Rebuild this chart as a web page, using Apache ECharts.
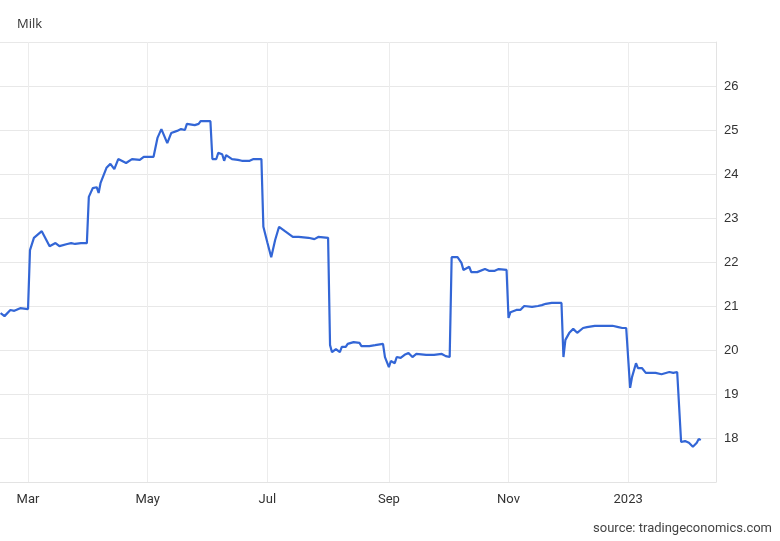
<!DOCTYPE html>
<html>
<head>
<meta charset="utf-8">
<script src="https://cdn.jsdelivr.net/npm/echarts@6/dist/echarts.min.js"></script>
<style>
html,body{margin:0;padding:0;background:#fff;}
#chart{width:780px;height:541px;}
</style>
</head>
<body>
<div id="chart"></div>
<script>
const dates = [
'2022-02-15','2022-02-17','2022-02-20','2022-02-22','2022-02-25','2022-02-26','2022-03-01',
'2022-03-02','2022-03-04','2022-03-08','2022-03-12','2022-03-15','2022-03-17','2022-03-21','2022-03-23','2022-03-25','2022-03-28','2022-03-31',
'2022-04-01','2022-04-03','2022-04-05','2022-04-06','2022-04-07','2022-04-10','2022-04-12','2022-04-14','2022-04-16','2022-04-20','2022-04-23','2022-04-27','2022-04-29',
'2022-05-04','2022-05-06','2022-05-08','2022-05-11','2022-05-13','2022-05-16','2022-05-18','2022-05-20','2022-05-21','2022-05-25','2022-05-27','2022-05-28','2022-06-02',
'2022-06-03','2022-06-05','2022-06-06','2022-06-08','2022-06-09','2022-06-10','2022-06-13','2022-06-16','2022-06-18','2022-06-22','2022-06-24','2022-06-28',
'2022-06-29','2022-07-01','2022-07-03','2022-07-05','2022-07-07','2022-07-10','2022-07-11','2022-07-14','2022-07-17','2022-07-22','2022-07-25','2022-07-27','2022-08-01',
'2022-08-02','2022-08-03','2022-08-05','2022-08-07','2022-08-08','2022-08-10','2022-08-11','2022-08-14','2022-08-17','2022-08-18','2022-08-22','2022-08-25','2022-08-26','2022-08-29',
'2022-08-30','2022-09-01','2022-09-02','2022-09-04','2022-09-05','2022-09-07','2022-09-09','2022-09-11','2022-09-13','2022-09-15','2022-09-20','2022-09-24','2022-09-28','2022-09-30','2022-10-02',
'2022-10-03','2022-10-06','2022-10-08','2022-10-09','2022-10-12','2022-10-13','2022-10-16','2022-10-20','2022-10-22','2022-10-25','2022-10-27','2022-10-31',
'2022-11-01','2022-11-02','2022-11-05','2022-11-07','2022-11-09','2022-11-13','2022-11-16','2022-11-18','2022-11-20','2022-11-23','2022-11-28',
'2022-11-29','2022-11-30','2022-12-02','2022-12-04','2022-12-06','2022-12-07','2022-12-09','2022-12-11','2022-12-15','2022-12-16','2022-12-19','2022-12-20','2022-12-24','2022-12-27','2022-12-29','2022-12-31',
'2023-01-02','2023-01-03','2023-01-05','2023-01-06','2023-01-08','2023-01-10','2023-01-13','2023-01-15','2023-01-18','2023-01-19','2023-01-22','2023-01-24','2023-01-26',
'2023-01-28','2023-01-30','2023-02-01','2023-02-03','2023-02-05','2023-02-06','2023-02-07'
];
const values = [
20.84,20.77,20.91,20.89,20.95,20.93,20.93,
22.27,22.55,22.70,22.36,22.43,22.36,22.41,22.43,22.41,22.43,22.43,
23.48,23.68,23.70,23.57,23.80,24.14,24.23,24.11,24.34,24.25,24.34,24.32,24.39,
24.39,24.82,25.02,24.70,24.93,24.98,25.02,25.00,25.14,25.11,25.14,25.20,25.20,
24.34,24.34,24.48,24.45,24.30,24.43,24.34,24.32,24.30,24.30,24.34,24.34,
22.80,22.45,22.11,22.50,22.80,22.70,22.73,22.57,22.57,22.55,22.52,22.57,22.55,
20.11,19.95,20.02,19.95,20.07,20.07,20.14,20.18,20.16,20.09,20.09,20.11,20.14,20.14,
19.84,19.61,19.75,19.70,19.84,19.82,19.89,19.93,19.84,19.91,19.89,19.89,19.91,19.86,19.84,
22.11,22.11,21.98,21.82,21.89,21.77,21.77,21.84,21.80,21.80,21.84,21.82,
20.73,20.86,20.91,20.91,21.00,20.98,21.00,21.02,21.05,21.07,21.07,
19.84,20.23,20.39,20.48,20.39,20.39,20.50,20.52,20.55,20.52,20.55,20.59,20.55,20.52,20.50,20.50,
19.14,19.39,19.70,19.59,19.59,19.48,19.48,19.48,19.45,19.45,19.50,19.48,19.50,
17.91,17.93,17.89,17.80,17.89,17.98,17.95
];
const xTickDates = ['2022-03-01','2022-05-01','2022-07-01','2022-09-01','2022-11-01','2023-01-01'];
const xTickLabels = ['Mar','May','Jul','Sep','Nov','2023'];
const yTickValues = [18,19,20,21,22,23,24,25,26];

function ts(s){ const p=s.split('-'); return new Date(+p[0], +p[1]-1, +p[2]).getTime(); }
const xTicks = xTickDates.map(ts);
const seriesData = dates.map((d,i)=>[ts(d), values[i]]);

const chart = echarts.init(document.getElementById('chart'), null, {renderer:'canvas'});
chart.setOption({
  animation:false,
  backgroundColor:'#fff',
  title:{text:'Milk', left:12, top:13, textStyle:{fontSize:13, fontWeight:'normal', color:'#333', fontFamily:'Open Sans, Noto Sans, sans-serif'}},
  graphic:[{type:'text', right:8, top:522, style:{text:'source: tradingeconomics.com', fontSize:13, fill:'#444', fontFamily:'Roboto, sans-serif'}}],
  grid:{left:0, right:64, top:42, bottom:59, containLabel:false, outerBoundsMode:'none'},
  xAxis:{
    type:'value',
    min:new Date(2022,1,14,17).getTime(),
    max:new Date(2023,1,14,19).getTime(),
    axisLine:{show:true, lineStyle:{color:'#e3e3e3', width:1}},
    axisTick:{show:false, customValues:xTicks},
    splitLine:{show:true, lineStyle:{color:'#ececec', width:1}},
    axisLabel:{customValues:xTicks, margin:11, fontSize:13, color:'#333', fontFamily:'Roboto, sans-serif',
      formatter:function(v){ const i=xTicks.indexOf(v); return i>=0?xTickLabels[i]:''; }}
  },
  yAxis:{
    type:'value', position:'right', min:17, max:27, interval:1,
    axisLine:{show:true, lineStyle:{color:'#e3e3e3', width:1}},
    axisTick:{show:false},
    splitLine:{show:true, lineStyle:{color:'#e8e8e8', width:1}},
    axisLabel:{margin:8, fontSize:13, color:'#333', fontFamily:'Liberation Sans, Arial, sans-serif',
      formatter:function(v){ return yTickValues.indexOf(v)>=0 ? String(v) : ''; }}
  },
  series:[{type:'line', data:seriesData, showSymbol:false, symbol:'none',
    lineStyle:{color:'#3366d6', width:2.2}, itemStyle:{color:'#3366d6'}}]
});
</script>
</body>
</html>
